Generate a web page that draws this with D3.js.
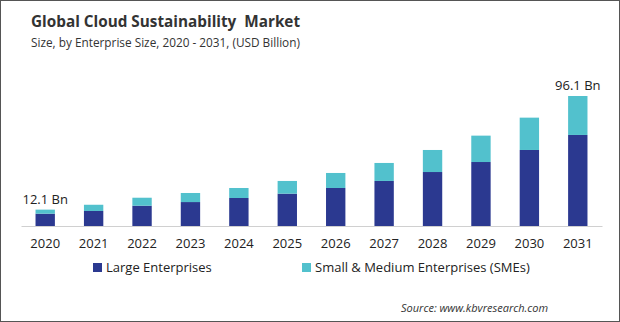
<!DOCTYPE html>
<meta charset="utf-8">
<style>
body { margin: 0; background: #fff; }
svg { font-family: "Open Sans", sans-serif; }
.pre { white-space: pre; }
</style>
<body>
<script src="https://d3js.org/d3.v7.min.js"></script>
<script>

// data (USD Billion)
var years = ["2020","2021","2022","2023","2024","2025","2026","2027","2028","2029","2030","2031"];
var large = [9.1, 11.1, 15.0, 17.7, 20.7, 23.9, 28.1, 33.3, 39.9, 47.3, 56.2, 67.3];
var smes  = [3.0, 4.6, 5.9, 6.7, 7.4, 9.4, 11.1, 13.3, 16.3, 19.5, 23.9, 28.8];
var seriesNames = ["Large Enterprises", "Small & Medium Enterprises (SMEs)"];
var colors = ["#2b3990", "#52c1cd"];
var endLabels = ["12.1 Bn", "96.1 Bn"];

var W = 620, H = 322;
var svg = d3.select("body").append("svg")
    .attr("width", W)
    .attr("height", H);

// frame
svg.append("rect")
    .attr("x", 0.5).attr("y", 0.5)
    .attr("width", W - 1).attr("height", H - 1)
    .attr("fill", "#fff")
    .attr("stroke", "#555");

// title
svg.append("text")
    .attr("class", "pre")
    .attr("x", 31).attr("y", 27)
    .attr("font-size", 15.3).attr("font-weight", "bold")
    .attr("fill", "#333")
    .text("Global Cloud Sustainability  Market");
svg.append("text")
    .attr("class", "pre")
    .attr("x", 31).attr("y", 47)
    .attr("font-size", 11.8)
    .attr("fill", "#333")
    .text("Size, by Enterprise Size, 2020 - 2031, (USD Billion)");

var data = years.map(function(y, i) {
  return { year: y, large: large[i], smes: smes[i] };
});

var x = d3.scaleBand()
    .domain(years)
    .range([21, 602])
    .paddingInner(0.6)
    .paddingOuter(0.3);

var y = d3.scaleLinear()
    .domain([0, 96.1])
    .range([226, 96]);

var stack = d3.stack().keys(["large", "smes"]);
var stacked = stack(data);

svg.selectAll("g.layer")
    .data(stacked)
  .enter().append("g")
    .attr("class", "layer")
    .attr("fill", function(d, i) { return colors[i]; })
  .selectAll("rect")
    .data(function(d) { return d; })
  .enter().append("rect")
    .attr("x", function(d) { return x(d.data.year); })
    .attr("y", function(d) { return y(d[1]); })
    .attr("width", x.bandwidth())
    .attr("height", function(d) { return y(d[0]) - y(d[1]); });

// x axis
var xAxis = svg.append("g")
    .attr("transform", "translate(0,226)")
    .call(d3.axisBottom(x).tickSize(0).tickPadding(13));
xAxis.select(".domain").attr("stroke", "#d0d0d0");
xAxis.selectAll("text")
    .attr("font-size", 13)
    .attr("font-family", "Open Sans, sans-serif")
    .attr("fill", "#222");

// value labels on first and last bars
[0, years.length - 1].forEach(function(idx, k) {
  var d = data[idx];
  svg.append("text")
      .attr("x", x(d.year) + x.bandwidth() / 2)
      .attr("y", y(d.large + d.smes) - 6)
      .attr("text-anchor", "middle")
      .attr("font-size", 13)
      .attr("fill", "#222")
      .text(endLabels[k]);
});

// legend
var legendX = [93, 302];
seriesNames.forEach(function(name, i) {
  svg.append("rect")
      .attr("x", legendX[i]).attr("y", 263)
      .attr("width", 9).attr("height", 9)
      .attr("fill", colors[i]);
  svg.append("text")
      .attr("x", legendX[i] + 13).attr("y", 272)
      .attr("font-size", 13)
      .attr("fill", "#222")
      .text(name);
});

// source
svg.append("text")
    .attr("x", 401).attr("y", 312)
    .attr("font-size", 11)
    .attr("font-style", "italic")
    .attr("fill", "#333")
    .text("Source: www.kbvresearch.com");

</script>
</body>
